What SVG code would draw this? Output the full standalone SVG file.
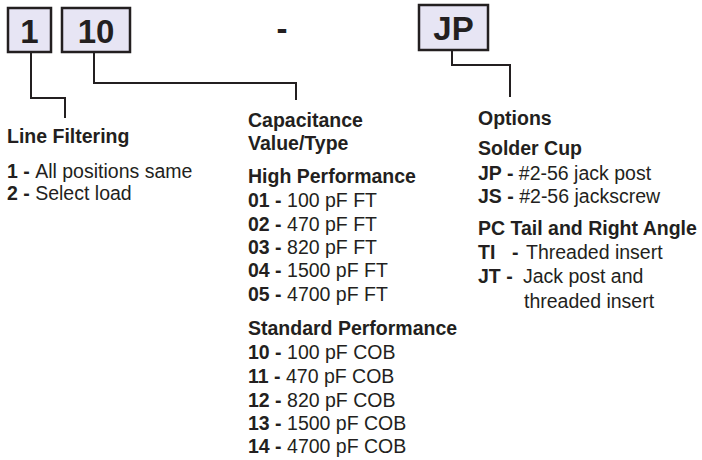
<svg xmlns="http://www.w3.org/2000/svg" width="702" height="460" viewBox="0 0 702 460">
<style>
text{font-family:"Liberation Sans",Arial,sans-serif;fill:#231f20;font-size:19.5px}
.b{font-weight:bold}
.box{fill:#e7e5f4;stroke:#231f20;stroke-width:2.5}
.bt{font-weight:bold;font-size:33px;text-anchor:middle}
.con{fill:none;stroke:#231f20;stroke-width:2}
</style>
<rect width="702" height="460" fill="#fff"/>
<g id="box1"><rect class="box" x="8" y="8" width="43" height="44"/><text class="bt" x="29.5" y="43">1</text></g>
<g id="box10"><rect class="box" x="62" y="8" width="68" height="44"/><text class="bt" x="96" y="43">10</text></g>
<g id="dash"><text class="bt" x="282" y="40">-</text></g>
<g id="boxJP"><rect class="box" x="419" y="5" width="69" height="45"/><text class="bt" x="453.5" y="40">JP</text></g>
<g id="connectors">
<polyline class="con" points="31,52 31,98 65,98 65,118"/>
<polyline class="con" points="94,52 94,83 296,83 296,100"/>
<polyline class="con" points="452,50 452,65 510,65 510,97"/>
</g>
<g id="line-filtering">
<text class="b" x="7" y="143">Line Filtering</text>
<text x="7" y="178"><tspan class="b">1 - </tspan>All positions same</text>
<text x="7" y="200"><tspan class="b">2 - </tspan>Select load</text>
</g>
<g id="capacitance">
<text class="b" x="248" y="127">Capacitance</text>
<text class="b" x="248" y="150">Value/Type</text>
<text class="b" x="248" y="183">High Performance</text>
<text x="248" y="207"><tspan class="b">01 - </tspan>100 pF FT</text>
<text x="248" y="231"><tspan class="b">02 - </tspan>470 pF FT</text>
<text x="248" y="254"><tspan class="b">03 - </tspan>820 pF FT</text>
<text x="248" y="277"><tspan class="b">04 - </tspan>1500 pF FT</text>
<text x="248" y="301"><tspan class="b">05 - </tspan>4700 pF FT</text>
<text class="b" x="248" y="335">Standard Performance</text>
<text x="248" y="359"><tspan class="b">10 - </tspan>100 pF COB</text>
<text x="248" y="383"><tspan class="b">11 - </tspan>470 pF COB</text>
<text x="248" y="407"><tspan class="b">12 - </tspan>820 pF COB</text>
<text x="248" y="430"><tspan class="b">13 - </tspan>1500 pF COB</text>
<text x="248" y="453"><tspan class="b">14 - </tspan>4700 pF COB</text>
</g>
<g id="options">
<text class="b" x="478" y="125">Options</text>
<text class="b" x="478" y="155">Solder Cup</text>
<text x="478" y="180"><tspan class="b">JP - </tspan>#2-56 jack post</text>
<text x="478" y="203"><tspan class="b">JS - </tspan>#2-56 jackscrew</text>
<text class="b" x="478" y="235">PC Tail and Right Angle</text>
<text x="478" y="259"><tspan class="b">TI</tspan><tspan class="b" x="512">-</tspan><tspan x="526">Threaded insert</tspan></text>
<text x="478" y="283"><tspan class="b">JT - </tspan><tspan x="523">Jack post and</tspan></text>
<text x="524" y="308">threaded insert</text>
</g>
</svg>
